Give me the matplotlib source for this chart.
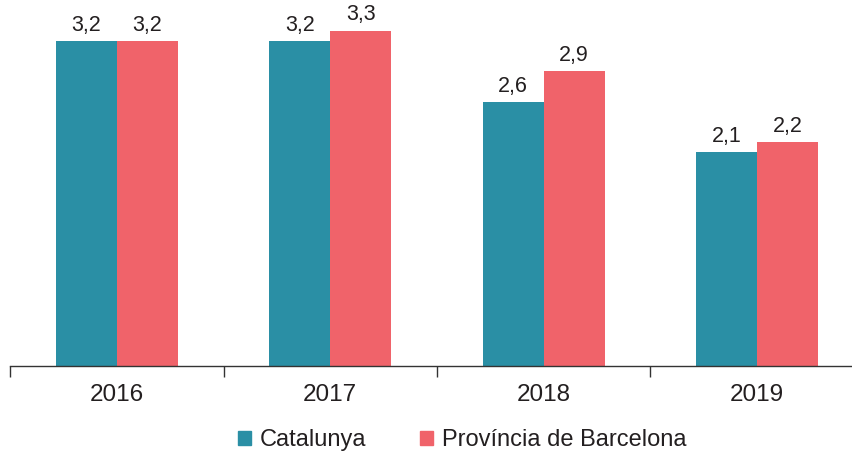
import matplotlib
matplotlib.use('Agg')
import matplotlib.pyplot as plt
from matplotlib.patches import Patch
import numpy as np

plt.rcParams['font.family'] = ['Liberation Sans', 'DejaVu Sans']

# data
years = ['2016', '2017', '2018', '2019']
catalunya = [3.2, 3.2, 2.6, 2.1]
barcelona = [3.2, 3.3, 2.9, 2.2]

TEAL = '#2A8FA5'
RED = '#F0636A'
TXT = '#231F20'

fig = plt.figure(figsize=(8.53, 4.55), dpi=100)
ax = fig.add_axes([10.3 / 853, 89 / 455, 853.3 / 853, 366 / 455])

x = np.arange(len(years))
w = 0.286
b1 = ax.bar(x - w / 2, catalunya, w, color=TEAL)
b2 = ax.bar(x + w / 2, barcelona, w, color=RED)

for bars, vals in [(b1, catalunya), (b2, barcelona)]:
    for r, v in zip(bars, vals):
        ax.text(r.get_x() + r.get_width() / 2, v + 0.05, f'{v:.1f}'.replace('.', ','),
                ha='center', va='bottom', fontsize=15.5, color=TXT)

ax.set_xlim(-0.5, 3.5)
ax.set_ylim(0, 3.6)
ax.set_yticks([])
for s in ['top', 'right', 'left']:
    ax.spines[s].set_visible(False)
ax.spines['bottom'].set_color('#333333')
ax.spines['bottom'].set_linewidth(1.0)

ax.set_xticks(x)
ax.set_xticklabels(years, fontsize=17.5, color=TXT)
ax.tick_params(axis='x', which='major', length=0, pad=13)
ax.set_xticks(np.arange(-0.5, 4.0, 1.0), minor=True)
ax.tick_params(axis='x', which='minor', length=8, color='#333333', width=1.0)

handles = [Patch(color=TEAL, label='Catalunya'),
           Patch(color=RED, label='Província de Barcelona')]
fig.legend(handles=handles, loc='center', bbox_to_anchor=(0.542, 0.033),
           ncol=2, frameon=False, fontsize=17, handlelength=0.55, handleheight=0.55,
           handletextpad=0.35, columnspacing=2.3, labelcolor=TXT)

fig.savefig('out.png', dpi=100, facecolor='white')
